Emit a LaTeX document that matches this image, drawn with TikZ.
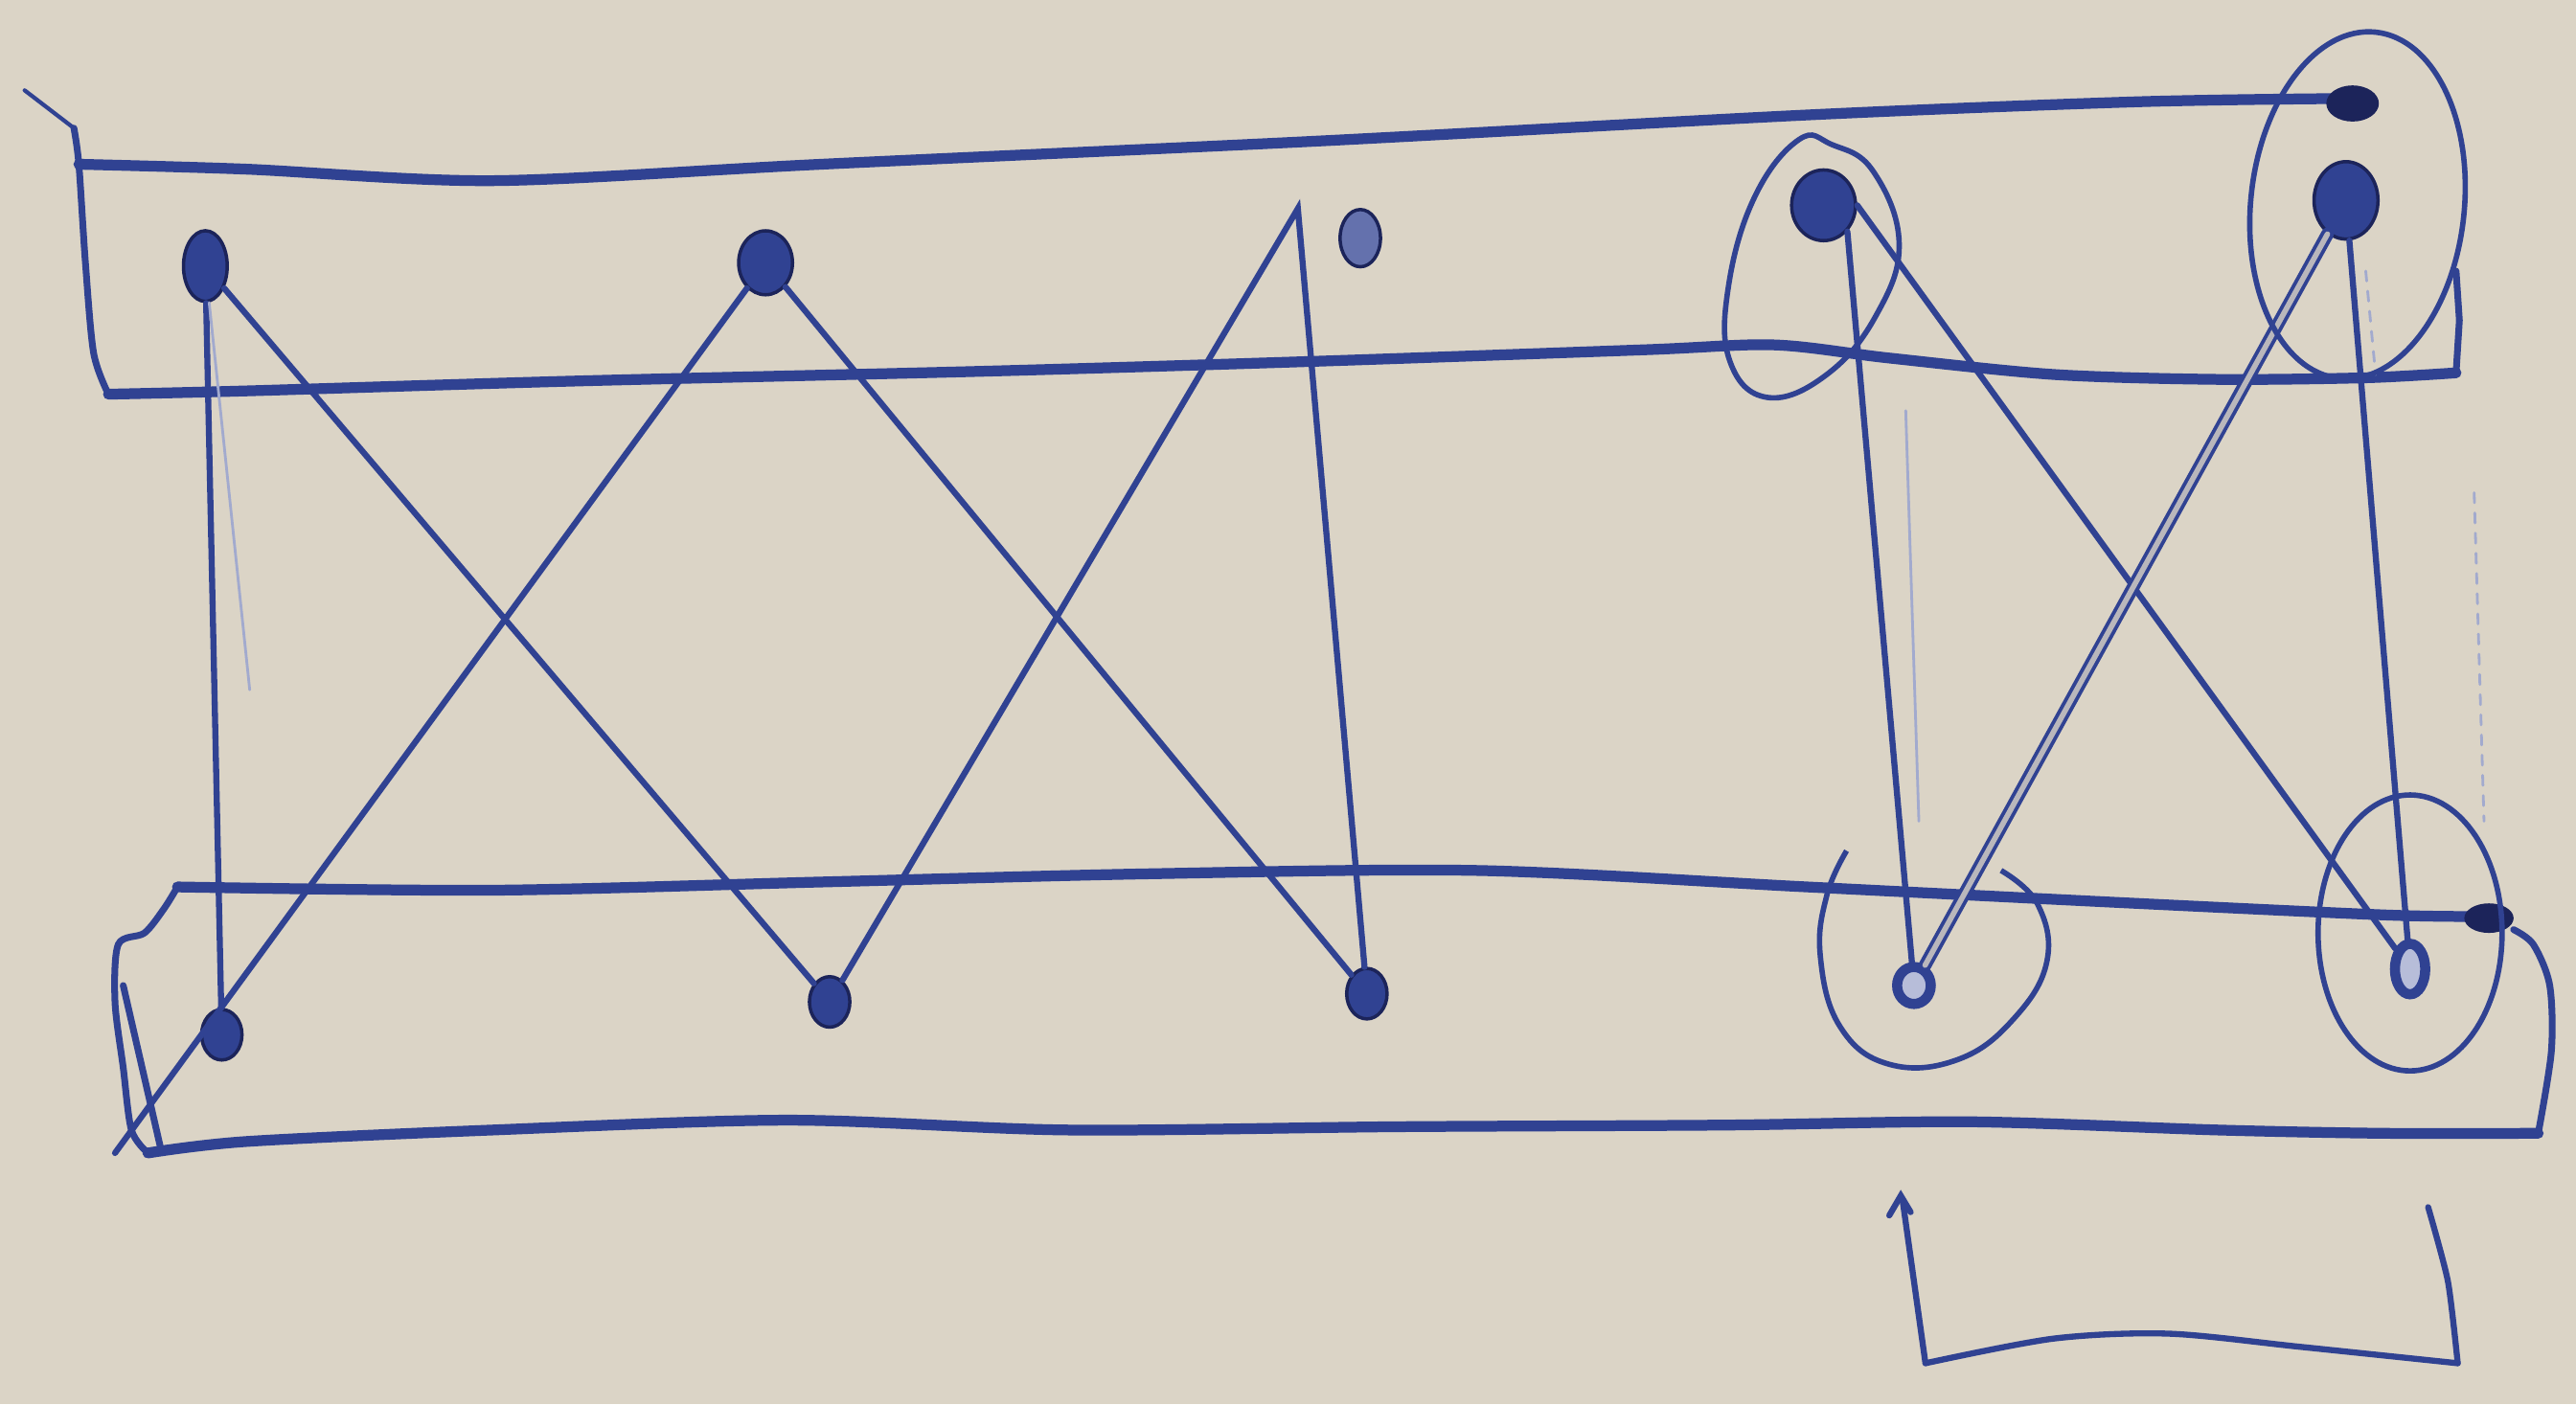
\documentclass[tikz,border=0pt]{standalone}
\usetikzlibrary{shapes.geometric}
\definecolor{paper}{RGB}{219,212,198}
\definecolor{ink}{RGB}{48,66,146}
\definecolor{inkdark}{RGB}{28,36,90}
\begin{document}
\begin{tikzpicture}[x=0.01715cm,y=-0.01715cm,
  frame/.style={draw=ink,line width=3.2pt,line cap=round,line join=round},
  side/.style={draw=ink,line width=2pt,line cap=round,line join=round},
  link/.style={draw=ink,line width=1.8pt,line cap=round},
  twin/.style={draw=ink,line width=1.1pt,double=paper!80!ink,double distance=1.6pt,line cap=round},
  faint/.style={draw=ink!45,line width=0.8pt,line cap=round},
  loopline/.style={draw=ink,line width=1.6pt},
  dot/.style={ellipse,fill=ink,draw=inkdark,line width=1pt,inner sep=0pt,minimum width=12pt,minimum height=15pt},
  ring/.style={ellipse,fill=ink!35,draw=ink,line width=3pt,inner sep=0pt,minimum width=10pt,minimum height=11pt}]
\fill[paper] (0,0) rectangle (1568,855);
\useasboundingbox (0,0) rectangle (1568,855);

% ---- top frame ----
\draw[side,line width=1.2pt] (15,55) -- (45,78);
\draw[side] plot[smooth,tension=0.5] coordinates {(45,78)(48,100)(52,160)(57,215)(66,240)};
\draw[frame] plot[smooth,tension=0.5] coordinates {(48,100)(150,103)(300,110)(500,100)(800,86)(1100,70)(1300,62)(1425,60)};
\draw[frame] plot[smooth,tension=0.5] coordinates {(66,240)(150,238)(350,232)(600,226)(800,220)(1000,213)(1080,210)(1150,218)(1250,228)(1350,231)(1440,230)(1495,227)};
\draw[side] (1495,227) -- (1497,195) -- (1495,165);
\fill[inkdark] (1432,63) ellipse [x radius=16, y radius=11];

% ---- bottom frame ----
\draw[frame] plot[smooth,tension=0.5] coordinates {(108,540)(300,542)(500,537)(700,532)(900,530)(1100,540)(1300,550)(1450,557)(1505,558)};
\draw[side] plot[smooth,tension=0.5] coordinates {(108,540)(100,553)(88,568)(72,575)(70,610)(75,650)(80,688)(90,702)};
\draw[side] (75,600) -- (98,700);
\draw[frame] plot[smooth,tension=0.5] coordinates {(90,702)(150,695)(300,688)(480,682)(650,688)(850,686)(1050,685)(1200,683)(1350,688)(1450,690)(1545,690)};
\draw[side] plot[smooth,tension=0.5] coordinates {(1545,690)(1553,640)(1552,600)(1542,575)(1530,566)};
\fill[inkdark] (1515,559) ellipse [x radius=15, y radius=9];

% ---- dots ----
\node[dot,minimum width=13pt,minimum height=21pt] (t1) at (125,162) {};
\node[dot,minimum width=16pt,minimum height=19pt] (t2) at (466,160) {};
\node[dot,minimum width=12pt,minimum height=17pt,fill=ink!75] (t3) at (828,145) {};
\node[dot,minimum width=19pt,minimum height=21pt] (t4) at (1110,125) {};
\node[dot,minimum width=19pt,minimum height=23pt] (t5) at (1428,122) {};
\node[dot,minimum width=12pt,minimum height=15pt] (b1) at (135,630) {};
\node[dot,minimum width=12pt,minimum height=15pt] (b2) at (505,610) {};
\node[dot,minimum width=12pt,minimum height=15pt] (b3) at (832,605) {};
\node[ring] (b4) at (1165,600) {};
\node[ring,minimum width=9pt,minimum height=15pt] (b5) at (1467,590) {};

% ---- helper coordinates ----
\coordinate (ll) at (70,702);
\coordinate (apex) at (790,127);
\coordinate (f1) at (152,420);
\coordinate (f2a) at (1440,165);
\coordinate (f2b) at (1446,228);
\coordinate (f3a) at (1506,300);
\coordinate (f3b) at (1512,500);
\coordinate (f4a) at (1160,250);
\coordinate (f4b) at (1168,500);

% ---- connectors ----
\draw[link] (t1) -- (b1);
\draw[faint] (t1) -- (f1);
\draw[link] (t1) -- (b2);
\draw[link] (t2) -- (ll);
\draw[link] (t2) -- (b3);
\draw[link] (b2) -- (apex) -- (b3);
\draw[link] (t4.south east) -- (b4);
\draw[link] (t4.east) -- (b5);
\draw[twin] (t5) -- (b4);
\draw[link] (t5) -- (b5);
\draw[faint,dashed] (f2a) -- (f2b);
\draw[faint,dashed] (f3a) -- (f3b);
\draw[faint] (f4a) -- (f4b);

% ---- loops ----
\draw[loopline] plot[smooth cycle,tension=0.7] coordinates {(1095,85)(1068,120)(1052,175)(1053,220)(1076,242)(1112,228)(1142,192)(1156,148)(1140,104)(1115,88)};
\draw[loopline,rotate around={-6:(1435,125)}] (1435,125) ellipse [x radius=65, y radius=106];
\draw[loopline] plot[smooth,tension=0.7] coordinates {(1124,518)(1112,545)(1108,582)(1120,625)(1150,648)(1192,645)(1226,620)(1246,585)(1240,550)(1218,530)};
\draw[loopline] (1467,568) ellipse [x radius=56, y radius=84];

% ---- bracket ----
\draw[link] (1150,740) -- (1157,728) -- (1163,738);
\draw[link] plot[smooth,tension=0.4] coordinates {(1158,730)(1165,780)(1172,830)};
\draw[link] plot[smooth,tension=0.5] coordinates {(1172,830)(1250,815)(1320,812)(1400,820)(1496,830)};
\draw[link] plot[smooth,tension=0.4] coordinates {(1496,830)(1490,780)(1478,735)};
\end{tikzpicture}
\end{document}
